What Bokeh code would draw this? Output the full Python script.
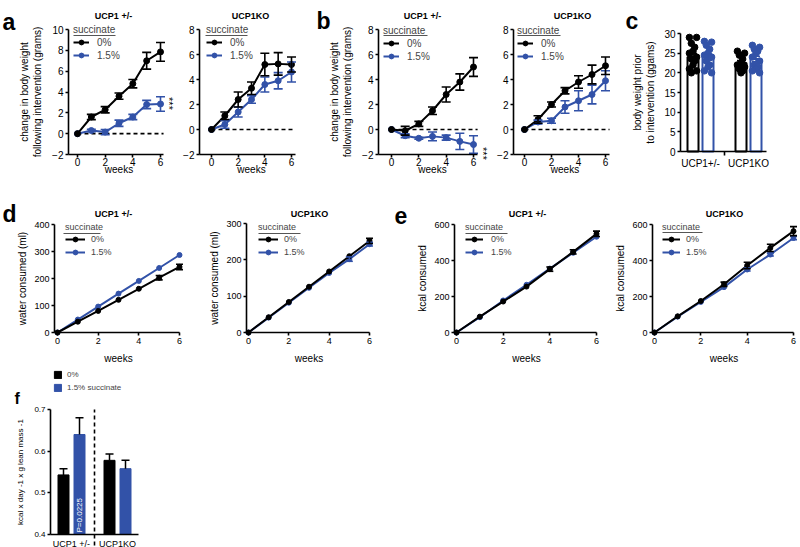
import math
from bokeh.plotting import figure
from bokeh.layouts import row, column
from bokeh.models import (ColumnDataSource, Whisker, TeeHead, Legend, LegendItem, Label,
                          BoxAnnotation, FixedTicker, Range1d)
from bokeh.embed import file_html
from bokeh.resources import INLINE

FONT = "Liberation Sans"
BLACK = "#000000"
BLUE = "#3252A8"

# ---------------- data ----------------
weeks = [0, 1, 2, 3, 4, 5, 6]
week_ticks = [0, 2, 4, 6]
series_labels = ["0%", "1.5%"]
legend_title = "succinate"
genotypes_title = ["UCP1 +/-", "UCP1KO"]

# panel a : change in body weight (g)
a_het_ctrl = [0, 1.6, 2.3, 3.6, 4.8, 7.0, 7.85]
a_het_ctrl_err = [0, 0.25, 0.3, 0.3, 0.4, 0.8, 0.9]
a_het_succ = [0, 0.3, 0.15, 1.0, 1.6, 2.8, 2.85]
a_het_succ_err = [0, 0.12, 0.25, 0.3, 0.25, 0.4, 0.7]
a_ko_ctrl = [0, 1.1, 2.4, 3.3, 5.2, 5.25, 5.2]
a_ko_ctrl_err = [0, 0.3, 0.6, 0.5, 0.9, 0.9, 0.6]
a_ko_succ = [0, 0.4, 1.4, 2.4, 3.6, 3.9, 4.6]
a_ko_succ_err = [0, 0.3, 0.4, 0.3, 0.6, 0.65, 0.8]

# panel b : change in body weight (g)
b_het_ctrl = [0, -0.1, 0.45, 1.5, 2.8, 3.8, 5.0]
b_het_ctrl_err = [0, 0.35, 0.2, 0.3, 0.6, 0.65, 0.75]
b_het_succ = [0, -0.5, -0.7, -0.55, -0.65, -0.95, -1.2]
b_het_succ_err = [0, 0.15, 0.08, 0.35, 0.2, 0.65, 0.7]
b_ko_ctrl = [0, 0.8, 2.0, 3.1, 3.8, 4.4, 5.1]
b_ko_ctrl_err = [0, 0.3, 0.2, 0.25, 0.5, 0.75, 0.7]
b_ko_succ = [0, 0.6, 0.7, 1.8, 2.3, 2.8, 3.9]
b_ko_succ_err = [0, 0.15, 0.2, 0.5, 0.8, 0.75, 0.8]

# panel c : body weight prior to intervention
c_groups = ["UCP1+/-", "UCP1KO"]
c_ctrl_mean = [24.0, 22.5]
c_ctrl_sem = [0.9, 0.6]
c_succ_mean = [24.0, 23.5]
c_succ_sem = [0.8, 0.7]
c_het_ctrl_pts = [29.0, 29.0, 27.5, 26.5, 25.5, 25.0, 24.0, 23.5, 23.0, 22.0, 21.0, 20.5, 20.0]
c_het_succ_pts = [28.0, 27.8, 27.0, 26.0, 25.0, 24.5, 24.0, 23.0, 22.0, 21.5, 20.5, 20.0]
c_ko_ctrl_pts = [25.5, 25.0, 24.5, 23.5, 22.5, 22.0, 21.5, 21.0, 20.5, 20.0]
c_ko_succ_pts = [27.0, 26.5, 26.0, 25.5, 25.0, 24.0, 23.0, 22.0, 21.5, 21.0, 20.5, 20.0]

# panel d : water consumed (ml)
d_het_ctrl = [0, 40, 80, 121, 162, 203, 243]
d_het_ctrl_err = [0, 0, 0, 0, 0, 8, 10]
d_het_succ = [0, 48, 96, 144, 191, 239, 287]
d_het_succ_err = [0, 0, 0, 0, 0, 0, 0]
d_ko_ctrl = [0, 42, 84, 126, 168, 210, 252]
d_ko_ctrl_err = [0, 0, 0, 0, 0, 0, 7]
d_ko_succ = [0, 41, 82, 123, 164, 202, 243]
d_ko_succ_err = [0, 0, 0, 0, 0, 6, 5]

# panel e : kcal consumed
e_het_ctrl = [0, 88, 172, 255, 352, 448, 548]
e_het_ctrl_err = [0, 0, 0, 0, 12, 12, 15]
e_het_succ = [0, 85, 178, 265, 355, 443, 532]
e_het_succ_err = [0, 0, 0, 0, 0, 0, 0]
e_ko_ctrl = [0, 90, 175, 268, 372, 470, 563]
e_ko_ctrl_err = [0, 0, 0, 12, 18, 20, 25]
e_ko_succ = [0, 88, 170, 252, 350, 433, 525]
e_ko_succ_err = [0, 0, 0, 0, 8, 8, 10]

# panel f : energy expenditure normalised to lean mass
f_groups = ["UCP1 +/-", "UCP1KO"]
f_legend_labels = ["0%", "1.5% succinate"]
f_ctrl = [0.543, 0.578]
f_ctrl_err = [0.015, 0.015]
f_succ = [0.640, 0.558]
f_succ_err = [0.040, 0.020]
f_pvalue_text = "P=0.0225"


# ---------------- helpers ----------------
def panel_fig(cx0, cx1, cy0, cy1, xa, xb, ya, yb):
    """Figure whose frame fills its canvas; (value, page px) pairs fix the scales."""
    kx = (xb[1] - xa[1]) / (xb[0] - xa[0])
    ky = (yb[1] - ya[1]) / (yb[0] - ya[0])

    def xv(px):
        return xa[0] + (px - xa[1]) / kx

    def yv(py):
        return ya[0] + (py - ya[1]) / ky

    p = figure(width=cx1 - cx0, height=cy1 - cy0,
               x_range=Range1d(xv(cx0), xv(cx1)), y_range=Range1d(yv(cy1), yv(cy0)),
               output_backend="svg", toolbar_location=None, title=None,
               min_border=0, min_border_left=0, min_border_right=0,
               min_border_top=0, min_border_bottom=0)
    p.outline_line_color = None
    p.xgrid.visible = False
    p.ygrid.visible = False
    p.background_fill_color = "white"
    p.border_fill_color = "white"
    for ax in (p.xaxis[0], p.yaxis[0]):
        ax.axis_line_width = 1.6
        ax.axis_line_color = "black"
        ax.major_tick_line_width = 1.6
        ax.major_tick_line_color = "black"
        ax.major_tick_in = 0
        ax.major_tick_out = 3
        ax.minor_tick_line_color = None
        ax.major_label_text_font = FONT
        ax.major_label_text_color = "black"
        ax.axis_label_text_font = FONT
        ax.axis_label_text_font_style = "normal"
        ax.axis_label_text_color = "black"
    p._geo = (cx0, cy1)
    return p, xv, yv


def frame_label(p, x, y, text, size, bold=False, align="center",
                baseline="middle", angle=0.0, color="black"):
    fl, fb = p._geo
    p.add_layout(Label(x=x - fl, y=fb - y, x_units="screen", y_units="screen",
                       text=text, text_font=FONT, text_font_size=f"{size}px",
                       text_font_style="bold" if bold else "normal",
                       text_align=align, text_baseline=baseline, angle=angle,
                       text_color=color))


def draw_series(p, ys, es, color, size, lw, cap):
    src = ColumnDataSource(dict(x=weeks, y=ys))
    ln = p.line("x", "y", source=src, line_color=color, line_width=lw)
    keep = [i for i, e in enumerate(es) if e > 0]
    wsrc = ColumnDataSource(dict(x=[weeks[i] for i in keep],
                                 lo=[ys[i] - es[i] for i in keep],
                                 hi=[ys[i] + es[i] for i in keep]))
    p.add_layout(Whisker(source=wsrc, base="x", lower="lo", upper="hi",
                         line_color=color, line_width=lw * 0.8, level="glyph",
                         upper_head=TeeHead(size=cap, line_color=color, line_width=lw * 0.8),
                         lower_head=TeeHead(size=cap, line_color=color, line_width=lw * 0.8)))
    sc = p.scatter("x", "y", source=src, size=size, fill_color=color, line_color=color)
    return [ln, sc]


def line_legend(p, rc, rs, left, bottom, fs, glyph_w, standoff, row_h, ul):
    fl, fb = p._geo
    leg = Legend(items=[LegendItem(label=series_labels[0], renderers=rc),
                        LegendItem(label=series_labels[1], renderers=rs)],
                 location=(left - fl, fb - bottom), title=legend_title,
                 title_text_font=FONT, title_text_font_size=f"{fs}px",
                 title_text_font_style="normal", title_standoff=1,
                 label_text_font=FONT, label_text_font_size=f"{fs}px",
                 glyph_width=glyph_w, glyph_height=row_h, label_height=row_h,
                 label_standoff=standoff, spacing=1, padding=0, margin=0,
                 border_line_color=None, background_fill_alpha=0)
    p.add_layout(leg)
    x0, x1, y = ul
    p.add_layout(BoxAnnotation(left=x0 - fl, right=x1 - fl, bottom=fb - y - 0.5, top=fb - y + 0.5,
                               left_units="screen", right_units="screen",
                               bottom_units="screen", top_units="screen",
                               fill_color="#555555", fill_alpha=1, line_color=None,
                               level="overlay"))


def line_panel(g):
    p, xv, yv = panel_fig(*g["canvas"], *g["xmap"], *g["ymap"])
    y_lo, y_hi = g["ybounds"]
    x_axis_start = xv(g["yaxis_px"])
    p.yaxis.fixed_location = x_axis_start
    p.yaxis.bounds = (y_lo, y_hi)
    p.xaxis.fixed_location = y_lo
    p.xaxis.bounds = (x_axis_start, g["x_end"])
    p.xaxis.ticker = FixedTicker(ticks=week_ticks)
    p.yaxis.ticker = FixedTicker(ticks=g["yticks"])
    for ax in (p.xaxis[0], p.yaxis[0]):
        ax.major_label_text_font_size = f"{g['tick_fs']}px"
        ax.axis_label_text_font_size = f"{g['lab_fs']}px"
    p.xaxis.major_label_standoff = g["xstand"]
    p.yaxis.axis_label = g["ylabel"]
    p.yaxis.major_label_standoff = 2
    p.yaxis.axis_label_standoff = g["ylab_standoff"]
    if g.get("zero_line"):
        p.segment(x0=[0], x1=[g["x_end"]], y0=[0], y1=[0], line_color="black",
                  line_width=1.6, line_dash="4 3")
    rs = draw_series(p, g["succ"], g["succ_err"], BLUE, g["msize"], g["lw"], g["cap"])
    rc = draw_series(p, g["ctrl"], g["ctrl_err"], BLACK, g["msize"], g["lw"], g["cap"])
    lg = g["legend"]
    line_legend(p, rc, rs, lg["left"], lg["bottom"], lg["fs"], lg["gw"],
                lg["standoff"], lg["row_h"], lg["ul"])
    tx, ty, tt = g["title"]
    frame_label(p, tx, ty, tt, 9, bold=True)
    wx = (g["xmap"][0][1] + g["xmap"][1][1]) / 2
    frame_label(p, wx, g["weeks_y"], "weeks", g["lab_fs"], baseline="alphabetic")
    if g.get("letter"):
        lx, ly, lt = g["letter"]
        frame_label(p, lx, ly, lt, 23, bold=True, align="left", baseline="alphabetic")
    if g.get("stars"):
        sx, sy = g["stars"]
        frame_label(p, sx, sy, "***", 11, angle=-math.pi / 2)
    return p


# ---------------- row 1 : panels a, b, c ----------------
R1 = (0, 178)
ab_common = dict(tick_fs=10, lab_fs=10, msize=6, lw=2, cap=9, zero_line=True, xstand=0,
                 weeks_y=169, ylab_standoff=6)

A1 = line_panel(dict(ab_common, canvas=(0, 175, *R1), xmap=((0, 77), (6, 160)),
                     ymap=((10, 29), (-2, 154)), ybounds=(-2, 10), yaxis_px=68, x_end=6.22,
                     yticks=[-2, 0, 2, 4, 6, 8, 10],
                     ylabel="change in body weight\nfollowing intervention (grams)",
                     ctrl=a_het_ctrl, ctrl_err=a_het_ctrl_err, succ=a_het_succ, succ_err=a_het_succ_err,
                     legend=dict(left=73, bottom=61, fs=10, gw=16, standoff=8, row_h=12, ul=(73, 115, 35)),
                     title=(113, 15, genotypes_title[0]), letter=(2, 21, "a"), stars=(168, 103)))

A2 = line_panel(dict(ab_common, canvas=(175, 310, *R1), xmap=((0, 211), (6, 291)),
                     ymap=((8, 29), (-2, 154)), ybounds=(-2, 8), yaxis_px=199, x_end=6.3,
                     yticks=[-2, 0, 2, 4, 6, 8], ylabel="",
                     ctrl=a_ko_ctrl, ctrl_err=a_ko_ctrl_err, succ=a_ko_succ, succ_err=a_ko_succ_err,
                     legend=dict(left=206, bottom=61, fs=10, gw=16, standoff=8, row_h=12, ul=(205, 247, 35)),
                     title=(250, 15, genotypes_title[1])))

B1 = line_panel(dict(ab_common, canvas=(310, 490, *R1), xmap=((0, 391), (6, 473)),
                     ymap=((8, 29), (-2, 154)), ybounds=(-2, 8), yaxis_px=378, x_end=6.3,
                     yticks=[-2, 0, 2, 4, 6, 8],
                     ylabel="change in body weight\nfollowing intervention (grams)",
                     ctrl=b_het_ctrl, ctrl_err=b_het_ctrl_err, succ=b_het_succ, succ_err=b_het_succ_err,
                     legend=dict(left=383, bottom=62, fs=10, gw=16, standoff=8, row_h=12, ul=(383, 427, 35)),
                     title=(422, 15, genotypes_title[0]), letter=(316, 20, "b"), stars=(482, 153)))

B2 = line_panel(dict(ab_common, canvas=(490, 620, *R1), xmap=((0, 524), (6, 605)),
                     ymap=((8, 29), (-2, 154)), ybounds=(-2, 8), yaxis_px=513, x_end=6.3,
                     yticks=[-2, 0, 2, 4, 6, 8], ylabel="",
                     ctrl=b_ko_ctrl, ctrl_err=b_ko_ctrl_err, succ=b_ko_succ, succ_err=b_ko_succ_err,
                     legend=dict(left=517, bottom=62, fs=10, gw=16, standoff=8, row_h=12, ul=(517, 560, 35)),
                     title=(572, 15, genotypes_title[1])))

# panel c
c_centers = [i + 0.5 for i in range(len(c_groups))]
C, cxv, cyv = panel_fig(620, 800, *R1, (c_centers[0], 700), (c_centers[1], 748), (0, 151), (30, 33))
c_axis_x = cxv(680)
C.yaxis.fixed_location = c_axis_x
C.yaxis.bounds = (0, 30)
C.xaxis.fixed_location = 0
C.xaxis.bounds = (c_axis_x, cxv(766))
C.yaxis.ticker = FixedTicker(ticks=[0, 5, 10, 15, 20, 25, 30])
C.xaxis.ticker = FixedTicker(ticks=c_centers, minor_ticks=[(c_centers[0] + c_centers[1]) / 2])
C.xaxis.major_label_overrides = {c: g for c, g in zip(c_centers, c_groups)}
C.xaxis.major_tick_line_color = None
C.xaxis.minor_tick_line_color = "black"
C.xaxis.minor_tick_line_width = 1.6
C.xaxis.minor_tick_out = 4
C.xaxis.minor_tick_in = 0
C.xaxis.major_label_standoff = 2
for ax in (C.xaxis[0], C.yaxis[0]):
    ax.major_label_text_font_size = "10px"
    ax.axis_label_text_font_size = "10px"
C.yaxis.major_label_standoff = 2
C.yaxis.axis_label = "body weight prior\nto intervention (ggams)"
C.yaxis.axis_label_standoff = 5
c_off = 7.5 / 48
c_w = 11 / 48
jit = [-0.075, 0.075, -0.035, 0.035, 0.0]
for sign, means, sems, pts_list, color in ((-1, c_ctrl_mean, c_ctrl_sem, [c_het_ctrl_pts, c_ko_ctrl_pts], BLACK),
                                            (1, c_succ_mean, c_succ_sem, [c_het_succ_pts, c_ko_succ_pts], BLUE)):
    xs = [c + sign * c_off for c in c_centers]
    C.vbar(x=xs, top=means, bottom=0, width=c_w, fill_color="white", line_color=color, line_width=2)
    for xc, pts in zip(xs, pts_list):
        C.scatter(x=[xc + jit[i % len(jit)] for i in range(len(pts))], y=pts, size=6.5,
                  fill_color=color, line_color=color)
    wsrc = ColumnDataSource(dict(x=xs, lo=[m - s for m, s in zip(means, sems)],
                                 hi=[m + s for m, s in zip(means, sems)]))
    C.add_layout(Whisker(source=wsrc, base="x", lower="lo", upper="hi", line_color=color,
                         line_width=1.6, level="overlay",
                         upper_head=TeeHead(size=8, line_color=color, line_width=1.6),
                         lower_head=TeeHead(size=8, line_color=color, line_width=1.6)))
frame_label(C, 625, 20, "c", 23, bold=True, align="left", baseline="alphabetic")

row1 = row(A1, A2, B1, B2, C)

# ---------------- row 2 : panels d, e ----------------
R2 = (178, 366)
de_common = dict(tick_fs=9, lab_fs=10, msize=5, lw=2, cap=7, zero_line=False, x_end=6, xstand=2,
                 weeks_y=358, ylab_standoff=3)

D1 = line_panel(dict(de_common, canvas=(0, 200, *R2), xmap=((0, 57), (6, 179)),
                     ymap=((0, 332), (400, 224)), ybounds=(0, 400), yaxis_px=54,
                     yticks=[0, 100, 200, 300, 400], ylabel="water consumed (ml)",
                     ctrl=d_het_ctrl, ctrl_err=d_het_ctrl_err, succ=d_het_succ, succ_err=d_het_succ_err,
                     legend=dict(left=65, bottom=258, fs=9, gw=20, standoff=6, row_h=12, ul=(63, 100, 233)),
                     title=(113, 213, genotypes_title[0]), letter=(2, 213, "d")))

D2 = line_panel(dict(de_common, canvas=(200, 390, *R2), xmap=((0, 248), (6, 369)),
                     ymap=((0, 332), (300, 223)), ybounds=(0, 300), yaxis_px=246,
                     yticks=[0, 100, 200, 300], ylabel="water consumed (ml)",
                     ctrl=d_ko_ctrl, ctrl_err=d_ko_ctrl_err, succ=d_ko_succ, succ_err=d_ko_succ_err,
                     legend=dict(left=258, bottom=258, fs=9, gw=20, standoff=6, row_h=12, ul=(258, 300, 233)),
                     title=(309, 213, genotypes_title[1])))

E1 = line_panel(dict(de_common, canvas=(390, 610, *R2), xmap=((0, 456), (6, 596)),
                     ymap=((0, 332), (600, 224)), ybounds=(0, 600), yaxis_px=454,
                     yticks=[0, 200, 400, 600], ylabel="kcal consumed",
                     ctrl=e_het_ctrl, ctrl_err=e_het_ctrl_err, succ=e_het_succ, succ_err=e_het_succ_err,
                     legend=dict(left=465, bottom=258, fs=9, gw=18, standoff=8, row_h=12, ul=(465, 507, 233)),
                     title=(527, 213, genotypes_title[0]), letter=(394, 215, "e")))

E2 = line_panel(dict(de_common, canvas=(610, 800, *R2), xmap=((0, 654), (6, 793)),
                     ymap=((0, 332), (600, 224)), ybounds=(0, 600), yaxis_px=652,
                     yticks=[0, 200, 400, 600], ylabel="kcal consumed",
                     ctrl=e_ko_ctrl, ctrl_err=e_ko_ctrl_err, succ=e_ko_succ, succ_err=e_ko_succ_err,
                     legend=dict(left=662, bottom=258, fs=9, gw=18, standoff=6, row_h=12, ul=(662, 702, 232)),
                     title=(724, 213, genotypes_title[1])))

row2 = row(D1, D2, E1, E2)

# ---------------- row 3 : panel f ----------------
R3 = (366, 547)
f_centers = [i + 0.5 for i in range(len(f_groups))]
F, fxv, fyv = panel_fig(0, 210, *R3, (f_centers[0], 71), (f_centers[1], 117), (0.4, 534), (0.7, 409))
f_axis_x = fxv(50)
F.yaxis.fixed_location = f_axis_x
F.yaxis.bounds = (0.4, 0.7)
F.xaxis.fixed_location = 0.4
F.xaxis.bounds = (f_axis_x, fxv(138))
F.yaxis.ticker = FixedTicker(ticks=[0.4, 0.5, 0.6, 0.7])
F.xaxis.ticker = FixedTicker(ticks=f_centers)
F.xaxis.major_label_overrides = {c: g for c, g in zip(f_centers, f_groups)}
F.xaxis.major_tick_line_color = None
F.xaxis.major_label_standoff = 1
for ax in (F.xaxis[0], F.yaxis[0]):
    ax.major_label_text_font_size = "8px"
    ax.axis_label_text_font_size = "8px"
F.xaxis.major_label_text_font_size = "9px"
F.yaxis.major_label_standoff = 2
F.yaxis.axis_label = "kcal x day -1 x g lean mass -1"
F.yaxis.axis_label_standoff = 6
f_off = 8 / 46
f_w = 11 / 46
f_rend = []
for sign, vals, errs, color in ((-1, f_ctrl, f_ctrl_err, BLACK), (1, f_succ, f_succ_err, BLUE)):
    xs = [c + sign * f_off for c in f_centers]
    r = F.vbar(x=xs, top=vals, bottom=0.4, width=f_w, fill_color=color, line_color=color)
    f_rend.append(r)
    wsrc = ColumnDataSource(dict(x=xs, lo=vals, hi=[v + e for v, e in zip(vals, errs)]))
    F.add_layout(Whisker(source=wsrc, base="x", lower="lo", upper="hi", line_color="black",
                         line_width=1.5, level="overlay", lower_head=None,
                         upper_head=TeeHead(size=8, line_color="black", line_width=1.5)))
f_sep = (f_centers[0] + f_centers[1]) / 2
F.segment(x0=[f_sep], x1=[f_sep], y0=[fyv(545)], y1=[0.7], line_color="black", line_width=1.6,
          line_dash="4 3")
F.add_layout(Label(x=f_centers[0] + f_off, y=fyv(532), text=f_pvalue_text, angle=math.pi / 2,
                   text_align="left", text_baseline="middle", text_color="white",
                   text_font=FONT, text_font_size="8px"))
F.add_layout(Legend(items=[LegendItem(label=f_legend_labels[0], renderers=[f_rend[0]]),
                           LegendItem(label=f_legend_labels[1], renderers=[f_rend[1]])],
                    location=(53, 547 - 392), label_text_font=FONT, label_text_font_size="8px",
                    glyph_width=9, glyph_height=9, label_height=9, label_standoff=5, spacing=4,
                    padding=0, margin=0, border_line_color=None, background_fill_alpha=0))
frame_label(F, 14, 398, "f", 16, bold=True, align="left", baseline="alphabetic")

row3 = row(F)

layout = column(row1, row2, row3)
open("out.html", "w").write(file_html(layout, INLINE))
